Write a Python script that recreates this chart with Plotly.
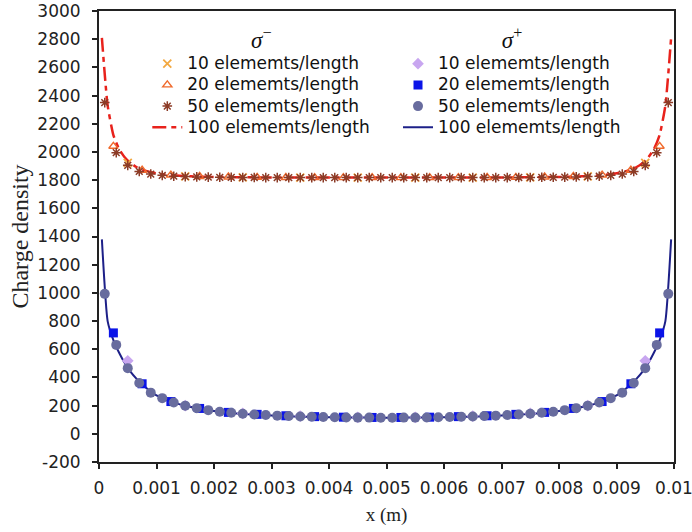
import plotly.graph_objects as go

# ---- element centres (m) for each mesh density ----
x10 = [0.0005, 0.0015, 0.0025, 0.0035, 0.0045, 0.0055, 0.0065, 0.0075, 0.0085, 0.0095]

x20 = [0.00025, 0.00075, 0.00125, 0.00175, 0.00225, 0.00275, 0.00325, 0.00375, 0.00425, 0.00475,
       0.00525, 0.00575, 0.00625, 0.00675, 0.00725, 0.00775, 0.00825, 0.00875, 0.00925, 0.00975]

x50 = [0.0001, 0.0003, 0.0005, 0.0007, 0.0009, 0.0011, 0.0013, 0.0015, 0.0017, 0.0019,
       0.0021, 0.0023, 0.0025, 0.0027, 0.0029, 0.0031, 0.0033, 0.0035, 0.0037, 0.0039,
       0.0041, 0.0043, 0.0045, 0.0047, 0.0049, 0.0051, 0.0053, 0.0055, 0.0057, 0.0059,
       0.0061, 0.0063, 0.0065, 0.0067, 0.0069, 0.0071, 0.0073, 0.0075, 0.0077, 0.0079,
       0.0081, 0.0083, 0.0085, 0.0087, 0.0089, 0.0091, 0.0093, 0.0095, 0.0097, 0.0099]

x100 = [0.00005, 0.00015, 0.00025, 0.00035, 0.00045, 0.00055, 0.00065, 0.00075, 0.00085, 0.00095,
        0.00105, 0.00115, 0.00125, 0.00135, 0.00145, 0.00155, 0.00165, 0.00175, 0.00185, 0.00195,
        0.00205, 0.00215, 0.00225, 0.00235, 0.00245, 0.00255, 0.00265, 0.00275, 0.00285, 0.00295,
        0.00305, 0.00315, 0.00325, 0.00335, 0.00345, 0.00355, 0.00365, 0.00375, 0.00385, 0.00395,
        0.00405, 0.00415, 0.00425, 0.00435, 0.00445, 0.00455, 0.00465, 0.00475, 0.00485, 0.00495,
        0.00505, 0.00515, 0.00525, 0.00535, 0.00545, 0.00555, 0.00565, 0.00575, 0.00585, 0.00595,
        0.00605, 0.00615, 0.00625, 0.00635, 0.00645, 0.00655, 0.00665, 0.00675, 0.00685, 0.00695,
        0.00705, 0.00715, 0.00725, 0.00735, 0.00745, 0.00755, 0.00765, 0.00775, 0.00785, 0.00795,
        0.00805, 0.00815, 0.00825, 0.00835, 0.00845, 0.00855, 0.00865, 0.00875, 0.00885, 0.00895,
        0.00905, 0.00915, 0.00925, 0.00935, 0.00945, 0.00955, 0.00965, 0.00975, 0.00985, 0.00995]

# ---- sigma-minus charge density ----
sm10 = [1922, 1826, 1819, 1818, 1818, 1818, 1818, 1819, 1826, 1922]

sm20 = [2040, 1870, 1836, 1826, 1822, 1820, 1819, 1818, 1818, 1818,
        1818, 1818, 1818, 1819, 1820, 1822, 1826, 1836, 1870, 2040]

sm50 = [2350, 1995, 1905, 1862, 1843, 1834, 1828, 1825, 1823, 1821,
        1820, 1820, 1819, 1819, 1818, 1818, 1818, 1818, 1818, 1818,
        1818, 1818, 1818, 1818, 1818, 1818, 1818, 1818, 1818, 1818,
        1818, 1818, 1818, 1818, 1818, 1818, 1819, 1819, 1820, 1820,
        1821, 1823, 1825, 1828, 1834, 1843, 1862, 1905, 1995, 2350]

sm100 = [2810, 2330, 2120, 2020, 1960, 1920, 1893, 1875, 1862, 1852,
         1845, 1840, 1836, 1833, 1830, 1828, 1826, 1825, 1824, 1823,
         1822, 1822, 1821, 1821, 1820, 1820, 1820, 1819, 1819, 1819,
         1818, 1818, 1818, 1818, 1818, 1818, 1818, 1818, 1818, 1818,
         1818, 1818, 1818, 1818, 1818, 1818, 1818, 1818, 1818, 1818,
         1818, 1818, 1818, 1818, 1818, 1818, 1818, 1818, 1818, 1818,
         1818, 1818, 1818, 1818, 1818, 1818, 1818, 1818, 1818, 1818,
         1819, 1819, 1819, 1820, 1820, 1820, 1821, 1821, 1822, 1822,
         1823, 1824, 1825, 1826, 1828, 1830, 1833, 1836, 1840, 1845,
         1852, 1862, 1875, 1893, 1920, 1960, 2020, 2120, 2330, 2810]

# ---- sigma-plus charge density ----
sp10 = [518, 200, 145, 126, 117, 117, 126, 145, 200, 518]

sp20 = [716, 355, 229, 180, 152, 138, 128, 122, 118, 116,
        116, 118, 122, 128, 138, 152, 180, 229, 355, 716]

sp50 = [993, 631, 466, 360, 292, 253, 222, 200, 182, 168,
        157, 149, 142, 137, 133, 129, 126, 123, 121, 119,
        117, 116, 115, 115, 114, 114, 115, 115, 116, 117,
        119, 121, 123, 126, 129, 133, 137, 142, 149, 157,
        168, 182, 200, 222, 253, 292, 360, 466, 631, 993]

sp100 = [1380, 800, 665, 575, 500, 440, 392, 352, 316, 285,
         262, 243, 229, 216, 205, 195, 186, 178, 171, 165,
         159, 154, 150, 146, 143, 140, 137, 135, 133, 131,
         129, 127, 126, 124, 123, 122, 121, 120, 119, 118,
         117.5, 117, 116.5, 116, 115.5, 115, 115, 114.5, 114.5, 114.5,
         114.5, 114.5, 114.5, 115, 115, 115.5, 116, 116.5, 117, 117.5,
         118, 119, 120, 121, 122, 123, 124, 126, 127, 129,
         131, 133, 135, 137, 140, 143, 146, 150, 154, 159,
         165, 171, 178, 186, 195, 205, 216, 229, 243, 262,
         285, 316, 352, 392, 440, 500, 575, 665, 800, 1380]

x_ticks = [0, 0.001, 0.002, 0.003, 0.004, 0.005, 0.006, 0.007, 0.008, 0.009, 0.01]
x_tick_text = ["0", "0.001", "0.002", "0.003", "0.004", "0.005", "0.006", "0.007", "0.008", "0.009", "0.01"]
y_ticks = [-200, 0, 200, 400, 600, 800, 1000, 1200, 1400, 1600, 1800, 2000, 2200, 2400, 2600, 2800, 3000]
y_tick_text = [str(v) for v in y_ticks]

SANS = "DejaVu Sans"
SERIF = "Liberation Serif"


def entry(n):
    # legend rows: text drawn at 17px while the row pitch follows the smaller legend font
    return f'<span style="font-size:17px">{n} elememts/length</span>'


fig = go.Figure()

# 100-element solutions drawn underneath the coarse-mesh markers
fig.add_trace(go.Scatter(
    x=x100, y=sm100, mode="lines", name=entry(100), legend="legend", legendrank=4,
    line=dict(color="#e8221c", width=2.5, dash="14px,5px,5px,5px", shape="spline", smoothing=0.5)))
fig.add_trace(go.Scatter(
    x=x100, y=sp100, mode="lines", name=entry(100), legend="legend2", legendrank=4,
    line=dict(color="#1d2088", width=2, shape="spline", smoothing=0.5)))

# sigma-minus markers
fig.add_trace(go.Scatter(
    x=x10, y=sm10, mode="markers", name=entry(10), legend="legend", legendrank=1,
    marker=dict(symbol="x-thin-open", size=8, color="#f2a840", line=dict(width=1.8))))
fig.add_trace(go.Scatter(
    x=x20, y=sm20, mode="markers", name=entry(20), legend="legend", legendrank=2,
    marker=dict(symbol="triangle-up-open", size=8, color="#f06a2c", line=dict(width=1.4))))
fig.add_trace(go.Scatter(
    x=x50, y=sm50, mode="markers", name=entry(50), legend="legend", legendrank=3,
    marker=dict(symbol="asterisk-open", size=8, color="#8c3b26", line=dict(width=1.5))))

# sigma-plus markers
fig.add_trace(go.Scatter(
    x=x10, y=sp10, mode="markers", name=entry(10), legend="legend2", legendrank=1,
    marker=dict(symbol="diamond", size=9, color="#c8a6f0")))
fig.add_trace(go.Scatter(
    x=x20, y=sp20, mode="markers", name=entry(20), legend="legend2", legendrank=2,
    marker=dict(symbol="square", size=9, color="#0b14e8")))
fig.add_trace(go.Scatter(
    x=x50, y=sp50, mode="markers", name=entry(50), legend="legend2", legendrank=3,
    marker=dict(symbol="circle", size=10, color="#686c9e")))

legend_common = dict(
    bgcolor="rgba(0,0,0,0)", borderwidth=0,
    font=dict(family=SANS, size=14, color="#111"),
    xanchor="left", yanchor="top", tracegroupgap=0, itemclick=False,
)

fig.update_layout(
    width=692, height=532,
    margin=dict(l=99, r=18, t=10.5, b=70, autoexpand=False),
    paper_bgcolor="white", plot_bgcolor="white",
    showlegend=True,
    legend=dict(
        x=0.084, y=0.984,
        title=dict(text="<i>σ</i><sup>−</sup>", side="top center",
                   font=dict(family=SERIF, size=23, color="#111")),
        **legend_common),
    legend2=dict(
        x=0.52, y=0.984,
        title=dict(text="<i>σ</i><sup>+</sup>", side="top center",
                   font=dict(family=SERIF, size=23, color="#111")),
        **legend_common),
    xaxis=dict(
        range=[0, 0.01], tickvals=x_ticks, ticktext=x_tick_text,
        ticks="outside", ticklen=5, tickwidth=1.5, tickcolor="#222",
        showline=True, linecolor="#222", linewidth=2, mirror=True,
        showgrid=False, zeroline=False, automargin=False,
        tickfont=dict(family=SANS, size=17, color="#222"),
        ticklabelstandoff=5, ticklabeloverflow="allow",
        title=dict(text="x (m)", font=dict(family=SERIF, size=19, color="#222"), standoff=10),
    ),
    yaxis=dict(
        range=[-200, 3000], tickvals=y_ticks, ticktext=y_tick_text,
        ticks="outside", ticklen=5, tickwidth=1.5, tickcolor="#222",
        showline=True, linecolor="#222", linewidth=2, mirror=True,
        showgrid=False, zeroline=False, automargin=False,
        tickfont=dict(family=SANS, size=17, color="#222"),
        ticklabelstandoff=8, ticklabeloverflow="allow",
        title=dict(text="Charge density", font=dict(family=SERIF, size=24, color="#222"), standoff=2),
    ),
)

fig.write_html("out.html")
